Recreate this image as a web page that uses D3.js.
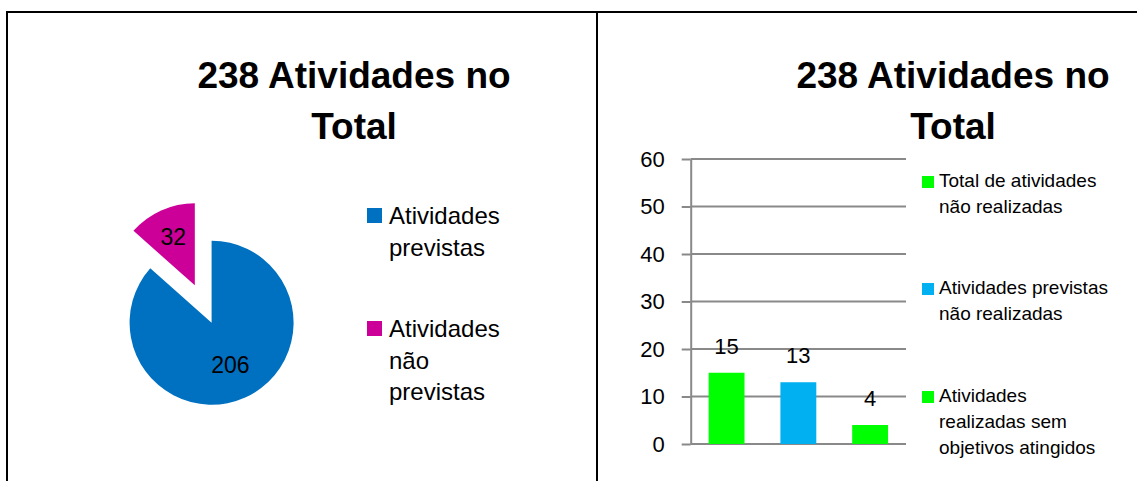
<!DOCTYPE html>
<html>
<head>
<meta charset="utf-8">
<script src="https://cdn.jsdelivr.net/npm/d3@7"></script>
<style>
body { margin: 0; background: #fff; }
text { font-family: "Liberation Sans", Arial, sans-serif; }
</style>
</head>
<body>
<svg id="chart" width="1137" height="481"></svg>
<script>
// chart data
var titleLines = ["238 Atividades no", "Total"];

var pieCategories = ["Atividades previstas", "Atividades não previstas"];
var pieValues = [206, 32];
var pieColors = ["#0070C0", "#CC0099"];
var pieLegendLines = [["Atividades", "previstas"], ["Atividades", "não", "previstas"]];

var barCategories = ["Total de atividades não realizadas", "Atividades previstas não realizadas", "Atividades realizadas sem objetivos atingidos"];
var barValues = [15, 13, 4];
var barColors = ["#00FF00", "#00B0F0", "#00FF00"];
var barLegendLines = [["Total de atividades", "não realizadas"], ["Atividades previstas", "não realizadas"], ["Atividades", "realizadas sem", "objetivos atingidos"]];
var yTicks = [0, 10, 20, 30, 40, 50, 60];

function whenDocumentLoaded(action) {
	if (document.readyState === "loading") {
		document.addEventListener("DOMContentLoaded", action);
	} else {
		action();
	}
}

function drawTitle(svg, cx) {
	var t = svg.append("text")
		.attr("text-anchor", "middle")
		.style("font-size", "37px")
		.style("font-weight", "bold");
	titleLines.forEach(function(line, i) {
		t.append("tspan").attr("x", cx).attr("y", 88 + i * 51).text(line);
	});
}

function drawFrame(svg) {
	svg.append("line").attr("x1", 6).attr("x2", 1137).attr("y1", 12).attr("y2", 12)
		.attr("stroke", "#000").attr("stroke-width", 2);
	svg.append("line").attr("x1", 7).attr("x2", 7).attr("y1", 11).attr("y2", 481)
		.attr("stroke", "#000").attr("stroke-width", 2);
	svg.append("line").attr("x1", 597).attr("x2", 597).attr("y1", 11).attr("y2", 481)
		.attr("stroke", "#000").attr("stroke-width", 2);
}

function drawPie(svg) {
	var cx = 211.6, cy = 322.7, r = 82, explode = 41;
	var pie = d3.pie().sort(null).value(function(d) { return d; });
	var arcs = pie(pieValues);
	var arc = d3.arc().innerRadius(0).outerRadius(r);
	var g = svg.append("g").attr("transform", "translate(" + cx + "," + cy + ")");

	var labelR = [0.56, 0.64];
	arcs.forEach(function(a, i) {
		var mid = (a.startAngle + a.endAngle) / 2;
		var off = i == 1 ? explode : 0;
		var dx = Math.sin(mid) * off, dy = -Math.cos(mid) * off;
		var sg = g.append("g").attr("transform", "translate(" + dx + "," + dy + ")");
		sg.append("path").attr("d", arc(a)).attr("fill", pieColors[i]);
		var lr = r * labelR[i];
		sg.append("text")
			.attr("x", Math.sin(mid) * lr)
			.attr("y", -Math.cos(mid) * lr)
			.attr("dy", "0.35em")
			.attr("text-anchor", "middle")
			.style("font-size", "23px")
			.text(pieValues[i]);
	});

	// legend
	var lg = svg.append("g");
	var itemY = [208, 321];
	pieLegendLines.forEach(function(lines, i) {
		lg.append("rect").attr("x", 367).attr("y", itemY[i]).attr("width", 15).attr("height", 15)
			.attr("fill", pieColors[i]);
		var t = lg.append("text").style("font-size", "24px");
		lines.forEach(function(line, j) {
			t.append("tspan").attr("x", 389).attr("y", itemY[i] + 16 + j * 31.5).text(line);
		});
	});
}

function drawBars(svg) {
	var left = 690.7, right = 906, top = 159, bottom = 444;
	var x = d3.scaleBand().domain(barCategories).range([left, right])
		.paddingInner(0.5).paddingOuter(0.25);
	var y = d3.scaleLinear().domain([0, 60]).range([bottom, top]);
	var grid = "#898989";

	svg.append("g").selectAll("line").data(yTicks).enter().append("line")
		.attr("x1", left).attr("x2", right)
		.attr("y1", function(d) { return y(d); }).attr("y2", function(d) { return y(d); })
		.attr("stroke", grid).attr("stroke-width", 2);

	var axis = svg.append("g").attr("transform", "translate(" + left + ",0)")
		.call(d3.axisLeft(y).tickValues(yTicks).tickSize(9).tickPadding(17).tickSizeOuter(0));
	axis.select(".domain").attr("stroke", grid).attr("stroke-width", 2);
	axis.selectAll(".tick line").attr("stroke", grid).attr("stroke-width", 2);
	axis.selectAll(".tick text").attr("fill", "#000").style("font-size", "22px")
		.style("font-family", "Liberation Sans, Arial, sans-serif");

	svg.append("g").selectAll("rect").data(barValues).enter().append("rect")
		.attr("x", function(d, i) { return x(barCategories[i]); })
		.attr("y", function(d) { return y(d); })
		.attr("width", x.bandwidth())
		.attr("height", function(d) { return bottom - y(d); })
		.attr("fill", function(d, i) { return barColors[i]; });

	svg.append("g").selectAll("text").data(barValues).enter().append("text")
		.attr("x", function(d, i) { return x(barCategories[i]) + x.bandwidth() / 2; })
		.attr("y", function(d) { return y(d) - 19; })
		.attr("text-anchor", "middle")
		.style("font-size", "22px")
		.text(function(d) { return d; });

	// legend
	var itemY = [176, 283, 391];
	barLegendLines.forEach(function(lines, i) {
		svg.append("rect").attr("x", 922).attr("y", itemY[i]).attr("width", 12).attr("height", 12)
			.attr("fill", barColors[i]);
		var t = svg.append("text").style("font-size", "19px");
		lines.forEach(function(line, j) {
			t.append("tspan").attr("x", 939).attr("y", itemY[i] + 11 + j * 25.8).text(line);
		});
	});
}

whenDocumentLoaded(function() {
	var svg = d3.select("#chart");
	drawFrame(svg);
	drawTitle(svg, 354);
	drawTitle(svg, 953);
	drawPie(svg);
	drawBars(svg);
});
</script>
</body>
</html>
